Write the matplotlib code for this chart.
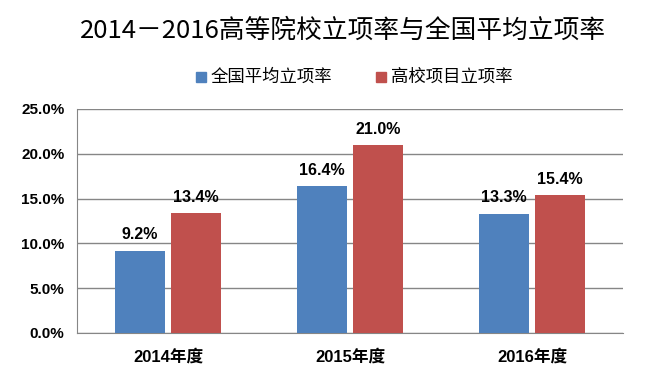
import matplotlib
matplotlib.use("Agg")
import matplotlib.pyplot as plt
import numpy as np
from matplotlib.patches import Rectangle

plt.rcParams['font.family'] = ['Liberation Sans', 'Noto Sans CJK SC', 'DejaVu Sans']

categories = ['2014年度', '2015年度', '2016年度']
series_names = ['全国平均立项率', '高校项目立项率']
national = [9.2, 16.4, 13.3]
university = [13.4, 21.0, 15.4]
title = '2014－2016高等院校立项率与全国平均立项率'
colors = ['#4F81BD', '#C0504D']

fig = plt.figure(figsize=(6.5, 3.77), dpi=100)
ax = fig.add_axes([77/650, (377-333)/377, (623-77)/650, (333-109)/377])

x = np.arange(len(categories))
w = 0.275
gap = 0.033
offs = [-(w+gap)/2, (w+gap)/2]
for vals, off, c in zip([national, university], offs, colors):
    bars = ax.bar(x + off, vals, w, color=c, zorder=3)
    for xi, v in zip(x + off, vals):
        ax.annotate(f'{v:.1f}%', (xi, v), xytext=(0, 6), textcoords='offset points',
                    ha='center', va='bottom', fontsize=11.5, fontweight='bold',
                    family=['Liberation Sans', 'Noto Sans CJK SC'])

ax.set_xlim(-0.5, 2.5)
ax.set_ylim(0, 25)
ax.set_yticks(np.arange(0, 26, 5))
ax.set_yticklabels([f'{v:.1f}%' for v in np.arange(0, 26, 5)], fontsize=11, fontweight='bold')
ax.set_xticks(x)
ax.set_xticklabels(categories, fontsize=12, fontweight='bold')
ax.tick_params(axis='both', length=0, pad=9)
ax.tick_params(axis='x', pad=11)
ax.grid(axis='y', color='#868686', linewidth=1, zorder=0)
for s in ['top', 'right']:
    ax.spines[s].set_visible(False)
ax.spines['left'].set_color('#868686')
ax.spines['bottom'].set_color('#868686')

fig.text(343/650, 1 - 31/377, title, ha='center', va='center', fontsize=18.5,
         family=['Noto Sans CJK SC', 'DejaVu Sans'])

# legend
for lx, name, c in zip([196, 376], series_names, colors):
    fig.patches.append(Rectangle((lx/650, 1 - 82/377), 10/650, 10/377, color=c,
                                 transform=fig.transFigure, figure=fig))
    fig.text((lx + 15)/650, 1 - 77/377, name, ha='left', va='center', fontsize=12.5,
             family=['Noto Sans CJK SC', 'DejaVu Sans'])

fig.savefig('out.png', dpi=100)
